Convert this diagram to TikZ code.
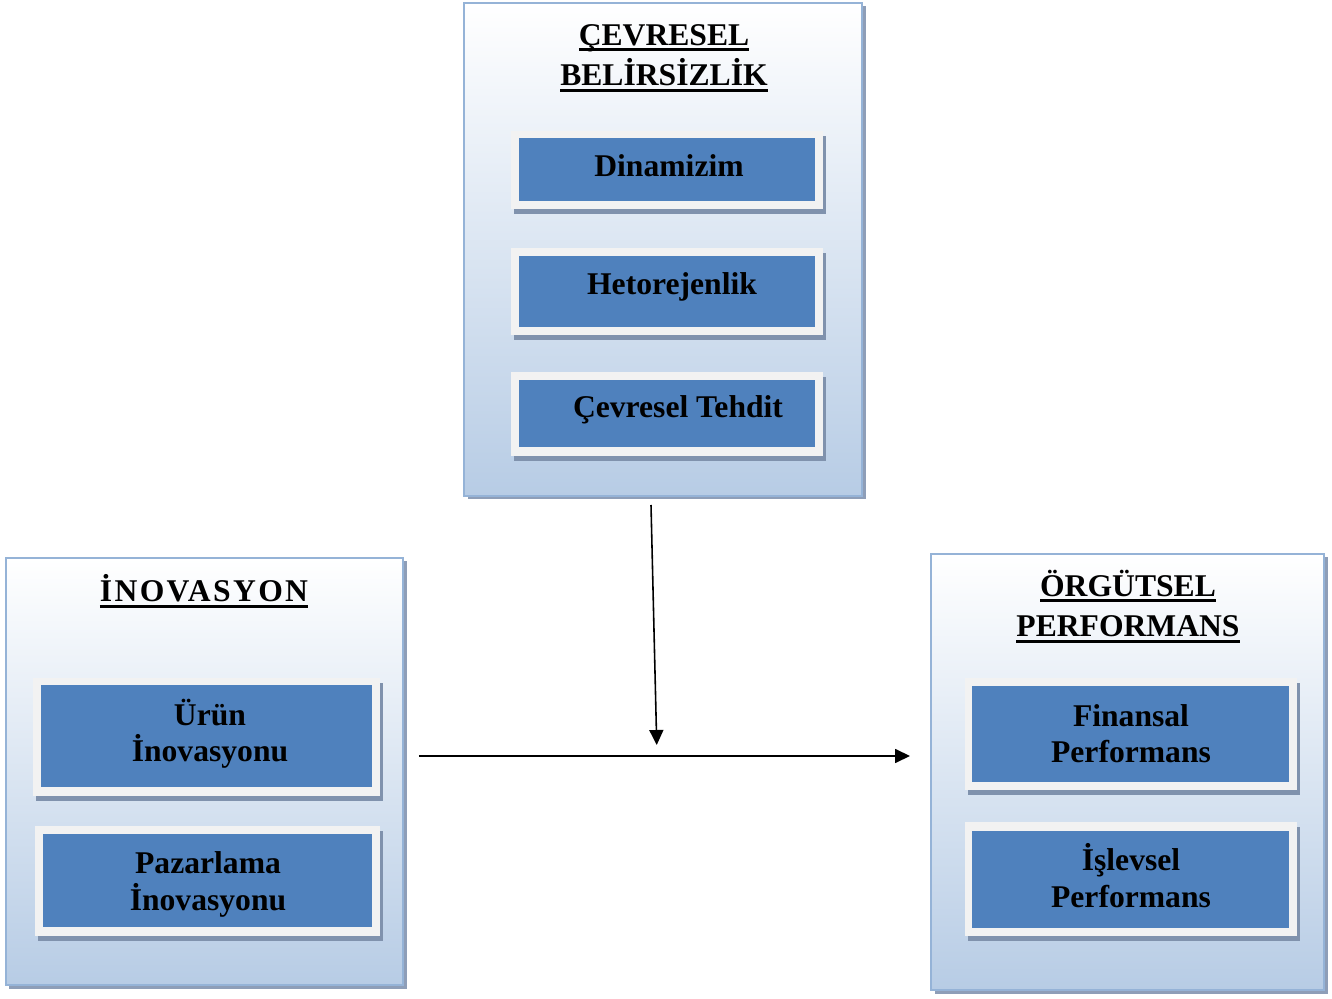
\documentclass[tikz,border=0pt]{standalone}
\usepackage{fontspec}
\setmainfont{Liberation Serif}
\usetikzlibrary{arrows.meta,fit,shadows,calc}
\definecolor{cborder}{RGB}{149,179,215}
\definecolor{cshadow}{RGB}{142,158,184}
\definecolor{cbottom}{RGB}{183,204,229}
\definecolor{cblue}{RGB}{79,129,189}
\definecolor{cframe}{RGB}{242,242,242}
\definecolor{cishadow}{RGB}{128,146,173}
\newcommand\ulw[1]{\setbox0\hbox{#1}\rlap{\rule[-3.3pt]{\wd0}{1.7pt}}\box0}
\begin{document}
\begin{tikzpicture}[x=0.02cm,y=-0.02cm,
  container/.style={draw=cborder, line width=1.1pt, top color=white, bottom color=cbottom,
    inner sep=0pt,
    drop shadow={shadow xshift=0.07cm, shadow yshift=-0.07cm, fill=cshadow, opacity=1}},
  itemframe/.style={fill=cframe, inner sep=0pt,
    drop shadow={shadow xshift=0.06cm, shadow yshift=-0.1cm, fill=cishadow, opacity=1}},
  itemblue/.style={fill=cblue, inner sep=0pt},
  ttl/.style={font=\fontsize{18}{23.3}\selectfont\bfseries, align=center, inner sep=0pt, anchor=base},
  itxt/.style={font=\fontsize{18}{21}\selectfont\bfseries, align=center, inner sep=0pt, anchor=base},
  conn/.style={line width=0.9pt, -{Triangle[length=0.3cm, width=0.28cm]}}
]
\useasboundingbox (0,0) rectangle (1332,999);

% Top container
\node[container, fit={(464,3) (862,496)}] (cevre) {};
\node[ttl] (cevret) at (664,86) {\ulw{ÇEVRESEL}\\\ulw{BELİRSİZLİK}};
\node[itemframe, fit={(511,131) (823,209)}] (f1) {};
\node[itemblue, fit={(519,138) (815,201)}] (b1) {};
\node[itxt] (t1) at (669,177) {Dinamizim};
\node[itemframe, fit={(511,248) (823,335)}] (f2) {};
\node[itemblue, fit={(519,256) (815,327)}] (b2) {};
\node[itxt] (t2) at (672,295) {Hetorejenlik};
\node[itemframe, fit={(511,372) (823,456)}] (f3) {};
\node[itemblue, fit={(519,380) (815,447)}] (b3) {};
\node[itxt] (t3) at (678,418) {Çevresel Tehdit};

% Left container
\node[container, fit={(6,558) (403,985)}] (inov) {};
\node[ttl] (inovt) at (204,602) {\addfontfeatures{LetterSpace=7.5}\ulw{İNOVASYON}};
\node[itemframe, fit={(33,678) (380,796)}] (f4) {};
\node[itemblue, fit={(41,685) (372,787)}] (b4) {};
\node[itxt] (t4) at (210,762) {Ürün\\İnovasyonu};
\node[itemframe, fit={(35,826) (380,936)}] (f5) {};
\node[itemblue, fit={(43,834) (372,927)}] (b5) {};
\node[itxt] (t5) at (208,910) {Pazarlama\\İnovasyonu};

% Right container
\node[container, fit={(931,554) (1324,990)}] (perf) {};
\node[ttl] (perft) at (1128,637) {\ulw{ÖRGÜTSEL}\\\ulw{PERFORMANS}};
\node[itemframe, fit={(965,678) (1297,790)}] (f6) {};
\node[itemblue, fit={(972,686) (1289,782)}] (b6) {};
\node[itxt] (t6) at (1131,763) {Finansal\\Performans};
\node[itemframe, fit={(965,822) (1297,936)}] (f7) {};
\node[itemblue, fit={(972,831) (1289,928)}] (b7) {};
\node[itxt] (t7) at (1131,907) {İşlevsel\\Performans};

% Connectors
\coordinate (vtop) at (651,505);
\coordinate (mid) at (657,756);
\draw[conn, shorten >=0.22cm] (vtop) -- (mid);
\draw[conn, shorten <=0.3cm, shorten >=0.4cm] (inov.east |- mid) -- (perf.west |- mid);
\end{tikzpicture}
\end{document}
